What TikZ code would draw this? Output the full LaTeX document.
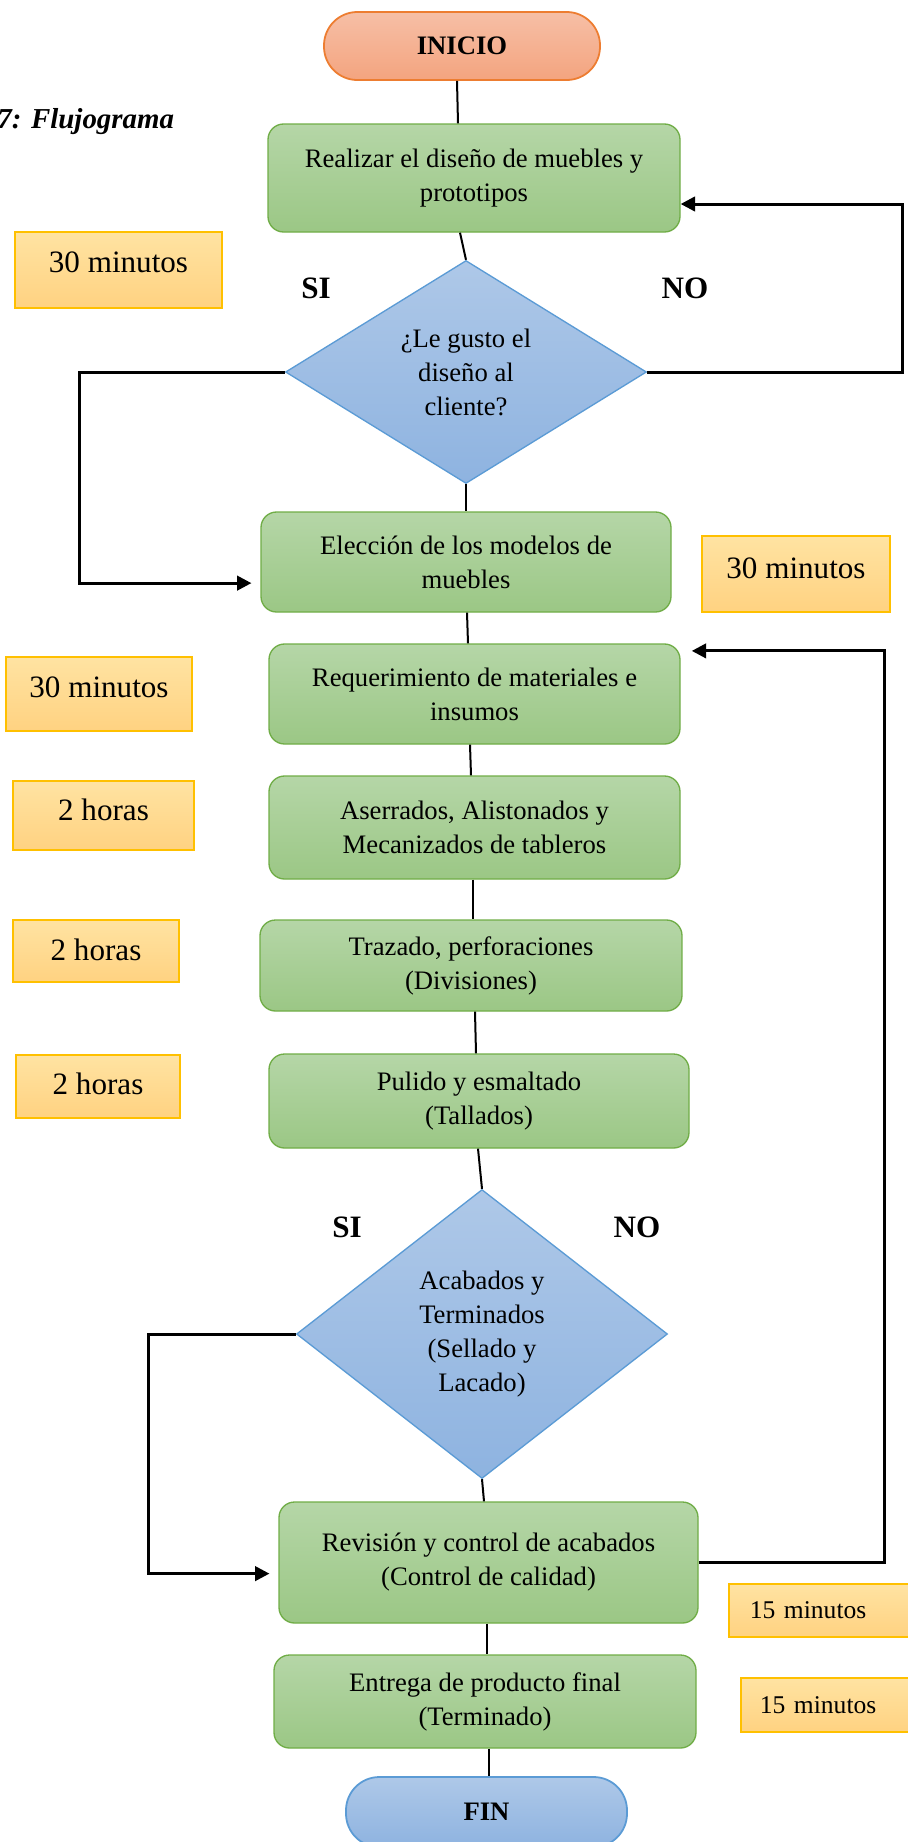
\documentclass[tikz,border=0pt]{standalone}
\usepackage{fontspec}
\setmainfont{Liberation Serif}
\usetikzlibrary{arrows.meta,shapes.geometric}
\definecolor{grtop}{HTML}{B5D6A7}\definecolor{grbot}{HTML}{9BC785}\definecolor{grline}{HTML}{70AD47}
\definecolor{bltop}{HTML}{AEC8E8}\definecolor{blbot}{HTML}{8EB3E0}\definecolor{blline}{HTML}{5B9BD5}
\definecolor{ortop}{HTML}{F6BFA6}\definecolor{orbot}{HTML}{F4A47F}\definecolor{orline}{HTML}{ED7D31}
\definecolor{ytop}{HTML}{FFE3A2}\definecolor{ybot}{HTML}{FFD281}\definecolor{yline}{HTML}{FFC000}
\def\pu{0.45pt}

\begin{document}
\begin{tikzpicture}[x=\pu,y=-\pu,>={Triangle[length=6.5pt,width=6.5pt]},font=\fontsize{12}{15.3}\selectfont,
  proc/.style={draw=grline,line width=0.6pt,top color=grtop,bottom color=grbot,rounded corners=7pt,align=center,inner sep=0pt},
  dec/.style={diamond,draw=blline,line width=0.6pt,top color=bltop,bottom color=blbot,aspect=1.5,inner sep=0pt,align=center},
  term/.style={rounded corners=15pt,line width=0.8pt,inner sep=0pt,font=\fontsize{12}{14}\selectfont\bfseries},
  timebox/.style={draw=yline,line width=0.8pt,top color=ytop,bottom color=ybot,inner sep=0pt,font=\fontsize{14}{16}\selectfont},
  yn/.style={font=\fontsize{14}{16}\selectfont\bfseries},
  link/.style={line width=0.9pt},
  back/.style={line width=1.35pt,->}]
\useasboundingbox (0,0) rectangle (908,1842);
\node[anchor=west,inner sep=0pt,font=\fontsize{13}{15}\selectfont\bfseries\itshape] (cap) at (-3,122) {7: Flujograma};
% flujo principal
\node[term,draw=orline,top color=ortop,bottom color=orbot,minimum width=276*\pu,minimum height=68*\pu] (ini) at (462,46) {INICIO};
\node[proc,minimum width=412*\pu,minimum height=108*\pu] (r1) at (474,178) {Realizar el diseño de muebles y\\prototipos};
\node[dec,minimum width=361*\pu,minimum height=223*\pu] (d1) at (466,372) {¿Le gusto el\\diseño al\\cliente?};
\node[proc,minimum width=410*\pu,minimum height=100*\pu] (r2) at (466,562) {Elección de los modelos de\\muebles};
\node[proc,minimum width=411*\pu,minimum height=100*\pu] (r3) at (474.5,694) {Requerimiento de materiales e\\insumos};
\node[proc,minimum width=411*\pu,minimum height=103*\pu] (r4) at (474.5,827.5) {Aserrados, Alistonados y\\Mecanizados de tableros};
\node[proc,minimum width=422*\pu,minimum height=91*\pu] (r5) at (471,965.5) {Trazado, perforaciones\\(Divisiones)};
\node[proc,minimum width=420*\pu,minimum height=94*\pu] (r6) at (479,1101) {Pulido y esmaltado\\(Tallados)};
\node[dec,minimum width=371*\pu,minimum height=289*\pu] (d2) at (482,1334) {Acabados y\\Terminados\\(Sellado y\\Lacado)};
\node[proc,minimum width=419*\pu,minimum height=121*\pu] (r7) at (488.5,1562.5) {Revisión y control de acabados\\(Control de calidad)};
\node[proc,minimum width=422*\pu,minimum height=93*\pu] (r8) at (485,1701.5) {Entrega de producto final\\(Terminado)};
\node[term,draw=blline,top color=bltop,bottom color=blbot,minimum width=281*\pu,minimum height=70*\pu] (fin) at (486.5,1812) {FIN};
\foreach \a/\b/\xa/\xb in {ini/r1/457/458,r1/d1/460/466,d1/r2/466/466,r2/r3/467/468,r3/r4/470/471,r4/r5/473/473,
    r5/r6/475/476,r6/d2/478/482,d2/r7/482/484,r7/r8/487/487,r8/fin/489/489}
  \draw[link] (\a.south -| \xa,0) -- (\b.north -| \xb,0);
% retornos
\draw[back] (d1.east) -- ++(255,0) |- ([yshift=-11.7pt]r1.east);
\draw[back,shorten >=4pt] (d1.west) -- ++(-205,0) |- ([yshift=-9.5pt]r2.west);
\draw[back,shorten >=4pt] (d2.west) -- ++(-147,0) |- ([yshift=-5pt]r7.west);
\draw[back,shorten >=5pt] (r7.east) -- ++(186,0) |- ([yshift=19.4pt]r3.east);
\node[yn] (si1) at (316,288) {SI};
\node[yn] (no1) at (685,288) {NO};
\node[yn] (si2) at (347,1227) {SI};
\node[yn] (no2) at (637,1227) {NO};
% tiempos
\foreach \n/\x/\y/\w/\h/\d/\t in {tA/118.5/270/207/76/16/30 minutos,tB/796/574/188/76/12/30 minutos,
    tC/99/694/186/74/14/30 minutos,tD/103.5/815.5/181/69/11/2 horas,tE/96/951/166/62/2/2 horas,tF/98/1086.5/164/63/5/2 horas}
  \node[timebox,minimum width=\w*\pu,minimum height=\h*\pu,text depth=\d*\pu] (\n) at (\x,\y) {\t};
\node[timebox,font=\fontsize{11.5}{14}\selectfont,anchor=west,minimum height=53*\pu,text width=140*\pu,inner xsep=21*\pu,align=left] (tG) at (728,1610.5) {15 minutos};
\node[timebox,font=\fontsize{11.5}{14}\selectfont,anchor=west,minimum height=54*\pu,text width=140*\pu,inner xsep=19*\pu,align=left] (tH) at (740,1705) {15 minutos};
\end{tikzpicture}
\end{document}
